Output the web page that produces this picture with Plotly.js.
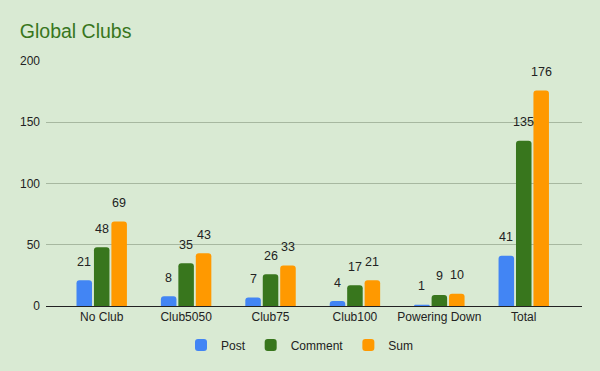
<!DOCTYPE html>
<html><head><meta charset="utf-8">
<script src="https://cdn.plot.ly/plotly-3.0.1.min.js"></script>
<style>html,body{margin:0;padding:0;background:#d9ead3;}</style>
</head><body><div id="chart" style="width:600px;height:371px;"></div>
<script>
const categories = ["No Club","Club5050","Club75","Club100","Powering Down","Total"];
const post = [21, 8, 7, 4, 1, 41];
const comment = [48, 35, 26, 17, 9, 135];
const sum = [69, 43, 33, 21, 10, 176];
const yTicks = [0, 50, 100, 150, 200];

const seriesNames = ["Post","Comment","Sum"];
const seriesVals = [post, comment, sum];
const colors = {Post:"#4285f4", Comment:"#38761d", Sum:"#ff9900"};

const W=600,H=371,M={l:46,r:18,t:61,b:65};
const xRange=[-0.66,5.69], bargap=0.38, bargroupgap=0.11;
const pxPerCat=(W-M.l-M.r)/(xRange[1]-xRange[0]);
const slot=pxPerCat*(1-bargap)/seriesNames.length;

const data=seriesNames.map((name,i)=>({type:"bar", name:name, x:categories, y:seriesVals[i],
  marker:{color:colors[name], cornerradius:3}, hoverinfo:"skip"}));

const annotations=[];
seriesNames.forEach((name,i)=>{
  seriesVals[i].forEach((v,j)=>{
    annotations.push({x:categories[j], y:v, xref:"x", yref:"y", text:String(v),
      showarrow:false, xanchor:"center", yanchor:"bottom",
      xshift:(i-(seriesNames.length-1)/2)*slot, yshift:9.5,
      font:{family:"Liberation Sans, Arial", size:12.5, color:"#222"}});
  });
});

const layout={
  width:W,height:H,
  paper_bgcolor:"#d9ead3",plot_bgcolor:"#d9ead3",
  margin:M,
  font:{family:"Liberation Sans, Arial",size:12,color:"#222"},
  title:{text:"Global Clubs",x:0.033,xanchor:"left",y:0.917,yanchor:"middle",
    font:{family:"Liberation Sans, Arial",size:19.5,color:"#38761d"}},
  barmode:"group",bargap:bargap,bargroupgap:bargroupgap,
  xaxis:{range:xRange,showline:true,linecolor:"#222",linewidth:1,ticks:"",
    tickfont:{size:12,color:"#222"},fixedrange:true,automargin:false},
  yaxis:{range:[0,200],tickvals:yTicks,ticktext:yTicks.map(String),
    gridcolor:"#a7b8a0",gridwidth:1,zeroline:false,ticks:"",ticklen:0,ticklabelstandoff:5,
    tickfont:{size:12,color:"#222"},fixedrange:true,automargin:false},
  legend:{orientation:"h",xref:"container",x:0.5,xanchor:"center",yref:"container",y:0.07,yanchor:"middle",
    font:{size:12,color:"#222"},itemwidth:30},
  annotations:annotations,
  showlegend:true
};
Plotly.newPlot("chart",data,layout,{displayModeBar:false,staticPlot:true});
</script></body></html>
